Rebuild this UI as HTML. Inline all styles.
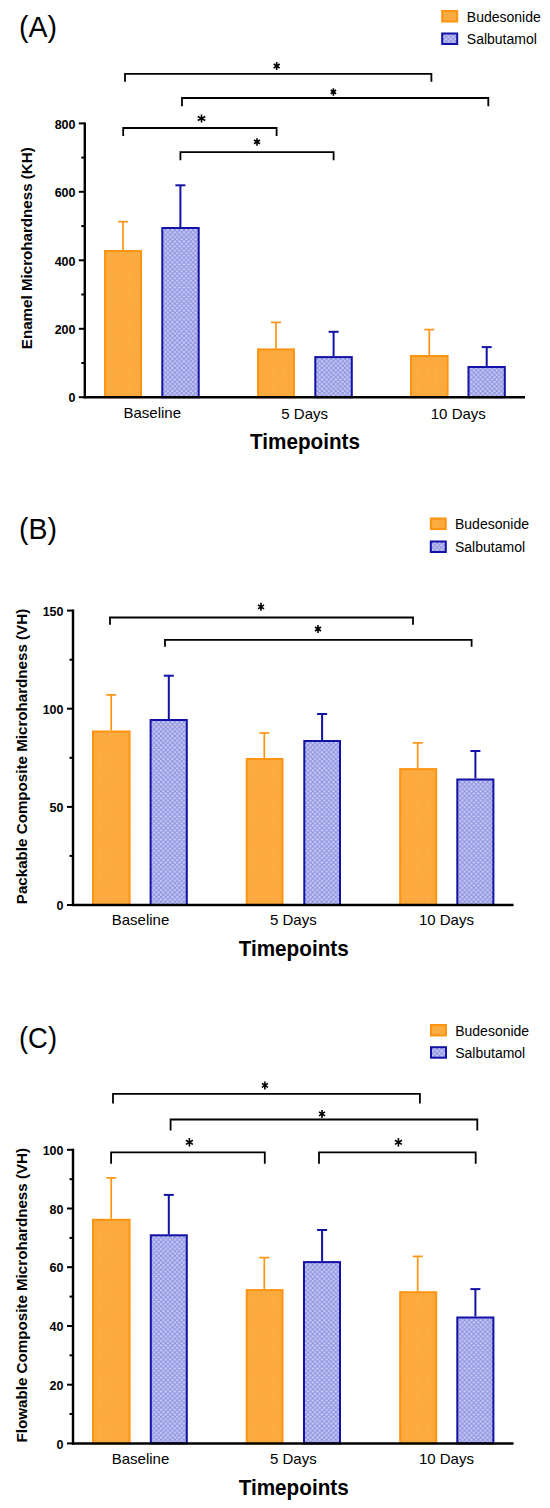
<!DOCTYPE html>
<html><head><meta charset="utf-8"><title>Microhardness charts</title>
<style>html,body{margin:0;padding:0;background:#fff;}svg{display:block;}text{font-family:"Liberation Sans", sans-serif;}</style>
</head><body>
<svg width="550" height="1508" viewBox="0 0 550 1508" font-family='"Liberation Sans", sans-serif' fill="#000">
<rect width="550" height="1508" fill="#fff"/>
<defs>
<pattern id="po" width="9.6" height="9.6" patternUnits="userSpaceOnUse">
<rect width="9.6" height="9.6" fill="#FCA93E"/>
<rect x="4" y="4" width="1.4" height="1.4" fill="#FCBD6A"/>
</pattern>
<pattern id="pb" width="4.6" height="4.6" patternUnits="userSpaceOnUse">
<rect width="4.6" height="4.6" fill="#C8CBF5"/>
<path d="M0 0 L4.6 4.6 M4.6 0 L0 4.6" stroke="#8D91DD" stroke-width="1.0"/>
</pattern>
</defs>
<text x="19.0" y="36.8" font-size="29" textLength="38" lengthAdjust="spacingAndGlyphs">(A)</text>
<rect x="442.2" y="11.0" width="15" height="10.5" fill="url(#po)" stroke="#FF9412" stroke-width="2"/>
<rect x="442.2" y="33.5" width="15" height="10.5" fill="url(#pb)" stroke="#1212A6" stroke-width="2"/>
<text x="466.8" y="21.8" font-size="14" font-weight="normal" text-anchor="start" fill="#000">Budesonide</text>
<text x="466.8" y="44.0" font-size="14" font-weight="normal" text-anchor="start" fill="#000">Salbutamol</text>
<path d="M125.0 81.7 V73.8 H431.4 V81.7" fill="none" stroke="#000" stroke-width="1.8"/>
<path d="M276.70 62.00 L276.70 70.00 M273.70 64.00 L279.70 68.00 M279.70 64.00 L273.70 68.00" stroke="#000" stroke-width="1.6" stroke-linecap="butt"/>
<path d="M182.0 106.3 V98.0 H488.3 V106.3" fill="none" stroke="#000" stroke-width="1.8"/>
<path d="M333.40 88.15 L333.40 95.65 M330.70 90.03 L336.10 93.78 M336.10 90.03 L330.70 93.78" stroke="#000" stroke-width="1.6" stroke-linecap="butt"/>
<path d="M123.2 136.0 V128.0 H276.6 V136.0" fill="none" stroke="#000" stroke-width="1.8"/>
<path d="M201.50 114.50 L201.50 122.50 M197.75 116.50 L205.25 120.50 M205.25 116.50 L197.75 120.50" stroke="#000" stroke-width="1.6" stroke-linecap="butt"/>
<path d="M180.4 160.2 V152.2 H333.6 V160.2" fill="none" stroke="#000" stroke-width="1.8"/>
<path d="M257.00 138.15 L257.00 145.65 M254.00 140.03 L260.00 143.78 M260.00 140.03 L254.00 143.78" stroke="#000" stroke-width="1.6" stroke-linecap="butt"/>
<line x1="84.8" y1="122.4" x2="84.8" y2="398.2" stroke="#000" stroke-width="2.4"/>
<line x1="78.8" y1="123.4" x2="84.8" y2="123.4" stroke="#000" stroke-width="2"/>
<text x="75.5" y="128.6" font-size="12.5" font-weight="bold" text-anchor="end" >800</text>
<line x1="78.8" y1="191.8" x2="84.8" y2="191.8" stroke="#000" stroke-width="2"/>
<text x="75.5" y="197.0" font-size="12.5" font-weight="bold" text-anchor="end" >600</text>
<line x1="78.8" y1="260.3" x2="84.8" y2="260.3" stroke="#000" stroke-width="2"/>
<text x="75.5" y="265.5" font-size="12.5" font-weight="bold" text-anchor="end" >400</text>
<line x1="78.8" y1="328.8" x2="84.8" y2="328.8" stroke="#000" stroke-width="2"/>
<text x="75.5" y="333.9" font-size="12.5" font-weight="bold" text-anchor="end" >200</text>
<line x1="78.8" y1="397.2" x2="84.8" y2="397.2" stroke="#000" stroke-width="2"/>
<text x="75.5" y="402.4" font-size="12.5" font-weight="bold" text-anchor="end" >0</text>
<line x1="81.3" y1="157.6" x2="84.8" y2="157.6" stroke="#000" stroke-width="2"/>
<line x1="81.3" y1="226.1" x2="84.8" y2="226.1" stroke="#000" stroke-width="2"/>
<line x1="81.3" y1="294.5" x2="84.8" y2="294.5" stroke="#000" stroke-width="2"/>
<line x1="81.3" y1="363.0" x2="84.8" y2="363.0" stroke="#000" stroke-width="2"/>
<text x="0" y="0" font-size="15.15" font-weight="bold" text-anchor="middle" transform="translate(31.8,248.2) rotate(-90)">Enamel Microhardness (KH)</text>
<line x1="123.0" y1="221.7" x2="123.0" y2="250.0" stroke="#FF9412" stroke-width="1.7"/>
<line x1="118.0" y1="221.7" x2="128.0" y2="221.7" stroke="#FF9412" stroke-width="1.7"/>
<rect x="105.0" y="251.0" width="36.0" height="146.2" fill="url(#po)" stroke="#FF9412" stroke-width="2"/>
<line x1="180.4" y1="185.3" x2="180.4" y2="227.0" stroke="#1212A6" stroke-width="2.0"/>
<line x1="175.4" y1="185.3" x2="185.4" y2="185.3" stroke="#1212A6" stroke-width="2.0"/>
<rect x="162.3" y="228.0" width="36.4" height="169.2" fill="url(#pb)" stroke="#1212A6" stroke-width="2"/>
<line x1="276.0" y1="322.4" x2="276.0" y2="348.4" stroke="#FF9412" stroke-width="1.7"/>
<line x1="271.0" y1="322.4" x2="281.0" y2="322.4" stroke="#FF9412" stroke-width="1.7"/>
<rect x="258.0" y="349.4" width="36.0" height="47.8" fill="url(#po)" stroke="#FF9412" stroke-width="2"/>
<line x1="333.6" y1="331.8" x2="333.6" y2="356.1" stroke="#1212A6" stroke-width="2.0"/>
<line x1="328.6" y1="331.8" x2="338.6" y2="331.8" stroke="#1212A6" stroke-width="2.0"/>
<rect x="315.3" y="357.1" width="36.5" height="40.1" fill="url(#pb)" stroke="#1212A6" stroke-width="2"/>
<line x1="429.3" y1="329.6" x2="429.3" y2="355.0" stroke="#FF9412" stroke-width="1.7"/>
<line x1="424.3" y1="329.6" x2="434.3" y2="329.6" stroke="#FF9412" stroke-width="1.7"/>
<rect x="411.0" y="356.0" width="36.6" height="41.2" fill="url(#po)" stroke="#FF9412" stroke-width="2"/>
<line x1="486.7" y1="347.1" x2="486.7" y2="366.0" stroke="#1212A6" stroke-width="2.0"/>
<line x1="481.7" y1="347.1" x2="491.7" y2="347.1" stroke="#1212A6" stroke-width="2.0"/>
<rect x="468.5" y="367.0" width="36.3" height="30.2" fill="url(#pb)" stroke="#1212A6" stroke-width="2"/>
<line x1="83.6" y1="397.2" x2="525.0" y2="397.2" stroke="#000" stroke-width="2.5"/>
<text x="152.3" y="418.4" font-size="15" font-weight="normal" text-anchor="middle" fill="#000">Baseline</text>
<text x="304.7" y="418.6" font-size="15" font-weight="normal" text-anchor="middle" fill="#000">5 Days</text>
<text x="458.3" y="418.6" font-size="15" font-weight="normal" text-anchor="middle" fill="#000">10 Days</text>
<text x="305.0" y="448.7" font-size="22" font-weight="bold" text-anchor="middle" textLength="110" lengthAdjust="spacingAndGlyphs">Timepoints</text>
<text x="19.0" y="539.0" font-size="29" textLength="38" lengthAdjust="spacingAndGlyphs">(B)</text>
<rect x="430.8" y="518.5" width="15" height="10.5" fill="url(#po)" stroke="#FF9412" stroke-width="2"/>
<rect x="430.8" y="541.5" width="15" height="10.5" fill="url(#pb)" stroke="#1212A6" stroke-width="2"/>
<text x="455.0" y="529.2" font-size="14" font-weight="normal" text-anchor="start" fill="#000">Budesonide</text>
<text x="455.0" y="552.0" font-size="14" font-weight="normal" text-anchor="start" fill="#000">Salbutamol</text>
<path d="M110.0 624.7 V617.5 H413.0 V624.7" fill="none" stroke="#000" stroke-width="1.8"/>
<path d="M261.00 602.80 L261.00 610.80 M258.00 604.80 L264.00 608.80 M264.00 604.80 L258.00 608.80" stroke="#000" stroke-width="1.6" stroke-linecap="butt"/>
<path d="M165.0 646.7 V639.9 H471.6 V646.7" fill="none" stroke="#000" stroke-width="1.8"/>
<path d="M318.00 625.00 L318.00 633.00 M315.00 627.00 L321.00 631.00 M321.00 627.00 L315.00 631.00" stroke="#000" stroke-width="1.6" stroke-linecap="butt"/>
<line x1="73.0" y1="609.6" x2="73.0" y2="906.0" stroke="#000" stroke-width="2.4"/>
<line x1="67.0" y1="610.6" x2="73.0" y2="610.6" stroke="#000" stroke-width="2"/>
<text x="63.5" y="615.8" font-size="12.5" font-weight="bold" text-anchor="end" >150</text>
<line x1="67.0" y1="708.7" x2="73.0" y2="708.7" stroke="#000" stroke-width="2"/>
<text x="63.5" y="713.9" font-size="12.5" font-weight="bold" text-anchor="end" >100</text>
<line x1="67.0" y1="806.9" x2="73.0" y2="806.9" stroke="#000" stroke-width="2"/>
<text x="63.5" y="812.1" font-size="12.5" font-weight="bold" text-anchor="end" >50</text>
<line x1="67.0" y1="905.0" x2="73.0" y2="905.0" stroke="#000" stroke-width="2"/>
<text x="63.5" y="910.2" font-size="12.5" font-weight="bold" text-anchor="end" >0</text>
<line x1="69.5" y1="659.7" x2="73.0" y2="659.7" stroke="#000" stroke-width="2"/>
<line x1="69.5" y1="757.8" x2="73.0" y2="757.8" stroke="#000" stroke-width="2"/>
<line x1="69.5" y1="855.9" x2="73.0" y2="855.9" stroke="#000" stroke-width="2"/>
<text x="0" y="0" font-size="15.15" font-weight="bold" text-anchor="middle" transform="translate(26.8,756.5) rotate(-90)">Packable Composite Microhardness (VH)</text>
<line x1="111.2" y1="694.9" x2="111.2" y2="730.5" stroke="#FF9412" stroke-width="1.7"/>
<line x1="106.2" y1="694.9" x2="116.2" y2="694.9" stroke="#FF9412" stroke-width="1.7"/>
<rect x="93.0" y="731.5" width="36.6" height="173.5" fill="url(#po)" stroke="#FF9412" stroke-width="2"/>
<line x1="168.8" y1="675.7" x2="168.8" y2="719.0" stroke="#1212A6" stroke-width="2.0"/>
<line x1="163.8" y1="675.7" x2="173.8" y2="675.7" stroke="#1212A6" stroke-width="2.0"/>
<rect x="150.6" y="720.0" width="36.2" height="185.0" fill="url(#pb)" stroke="#1212A6" stroke-width="2"/>
<line x1="264.3" y1="733.0" x2="264.3" y2="758.0" stroke="#FF9412" stroke-width="1.7"/>
<line x1="259.3" y1="733.0" x2="269.3" y2="733.0" stroke="#FF9412" stroke-width="1.7"/>
<rect x="246.7" y="759.0" width="35.8" height="146.0" fill="url(#po)" stroke="#FF9412" stroke-width="2"/>
<line x1="322.1" y1="714.0" x2="322.1" y2="740.0" stroke="#1212A6" stroke-width="2.0"/>
<line x1="317.1" y1="714.0" x2="327.1" y2="714.0" stroke="#1212A6" stroke-width="2.0"/>
<rect x="304.3" y="741.0" width="35.7" height="164.0" fill="url(#pb)" stroke="#1212A6" stroke-width="2"/>
<line x1="417.7" y1="742.9" x2="417.7" y2="768.1" stroke="#FF9412" stroke-width="1.7"/>
<line x1="412.7" y1="742.9" x2="422.7" y2="742.9" stroke="#FF9412" stroke-width="1.7"/>
<rect x="400.2" y="769.1" width="36.0" height="135.9" fill="url(#po)" stroke="#FF9412" stroke-width="2"/>
<line x1="475.4" y1="751.0" x2="475.4" y2="778.5" stroke="#1212A6" stroke-width="2.0"/>
<line x1="470.4" y1="751.0" x2="480.4" y2="751.0" stroke="#1212A6" stroke-width="2.0"/>
<rect x="457.3" y="779.5" width="36.1" height="125.5" fill="url(#pb)" stroke="#1212A6" stroke-width="2"/>
<line x1="71.8" y1="905.0" x2="513.6" y2="905.0" stroke="#000" stroke-width="2.5"/>
<text x="140.5" y="925.4" font-size="15" font-weight="normal" text-anchor="middle" fill="#000">Baseline</text>
<text x="293.3" y="925.4" font-size="15" font-weight="normal" text-anchor="middle" fill="#000">5 Days</text>
<text x="446.4" y="925.4" font-size="15" font-weight="normal" text-anchor="middle" fill="#000">10 Days</text>
<text x="293.7" y="955.5" font-size="22" font-weight="bold" text-anchor="middle" textLength="110" lengthAdjust="spacingAndGlyphs">Timepoints</text>
<text x="19.0" y="1047.5" font-size="29" textLength="38" lengthAdjust="spacingAndGlyphs">(C)</text>
<rect x="431.0" y="1025.0" width="15" height="10.5" fill="url(#po)" stroke="#FF9412" stroke-width="2"/>
<rect x="431.0" y="1047.2" width="15" height="10.5" fill="url(#pb)" stroke="#1212A6" stroke-width="2"/>
<text x="455.2" y="1035.5" font-size="14" font-weight="normal" text-anchor="start" fill="#000">Budesonide</text>
<text x="455.2" y="1057.5" font-size="14" font-weight="normal" text-anchor="start" fill="#000">Salbutamol</text>
<path d="M113.0 1103.5 V1093.8 H419.9 V1103.5" fill="none" stroke="#000" stroke-width="1.8"/>
<path d="M264.90 1081.40 L264.90 1089.40 M261.90 1083.40 L267.90 1087.40 M267.90 1083.40 L261.90 1087.40" stroke="#000" stroke-width="1.6" stroke-linecap="butt"/>
<path d="M170.6 1130.6 V1119.5 H477.3 V1130.6" fill="none" stroke="#000" stroke-width="1.8"/>
<path d="M322.00 1109.90 L322.00 1117.90 M319.00 1111.90 L325.00 1115.90 M325.00 1111.90 L319.00 1115.90" stroke="#000" stroke-width="1.6" stroke-linecap="butt"/>
<path d="M111.1 1163.8 V1152.3 H264.8 V1163.8" fill="none" stroke="#000" stroke-width="1.8"/>
<path d="M189.40 1138.10 L189.40 1146.50 M185.90 1140.20 L192.90 1144.40 M192.90 1140.20 L185.90 1144.40" stroke="#000" stroke-width="1.6" stroke-linecap="butt"/>
<path d="M319.0 1163.8 V1152.3 H475.7 V1163.8" fill="none" stroke="#000" stroke-width="1.8"/>
<path d="M398.40 1138.10 L398.40 1146.50 M394.90 1140.20 L401.90 1144.40 M401.90 1140.20 L394.90 1144.40" stroke="#000" stroke-width="1.6" stroke-linecap="butt"/>
<line x1="73.0" y1="1148.8" x2="73.0" y2="1444.4" stroke="#000" stroke-width="2.4"/>
<line x1="67.0" y1="1149.8" x2="73.0" y2="1149.8" stroke="#000" stroke-width="2"/>
<text x="63.5" y="1155.0" font-size="12.5" font-weight="bold" text-anchor="end" >100</text>
<line x1="67.0" y1="1208.5" x2="73.0" y2="1208.5" stroke="#000" stroke-width="2"/>
<text x="63.5" y="1213.7" font-size="12.5" font-weight="bold" text-anchor="end" >80</text>
<line x1="67.0" y1="1267.2" x2="73.0" y2="1267.2" stroke="#000" stroke-width="2"/>
<text x="63.5" y="1272.4" font-size="12.5" font-weight="bold" text-anchor="end" >60</text>
<line x1="67.0" y1="1326.0" x2="73.0" y2="1326.0" stroke="#000" stroke-width="2"/>
<text x="63.5" y="1331.2" font-size="12.5" font-weight="bold" text-anchor="end" >40</text>
<line x1="67.0" y1="1384.7" x2="73.0" y2="1384.7" stroke="#000" stroke-width="2"/>
<text x="63.5" y="1389.9" font-size="12.5" font-weight="bold" text-anchor="end" >20</text>
<line x1="67.0" y1="1443.4" x2="73.0" y2="1443.4" stroke="#000" stroke-width="2"/>
<text x="63.5" y="1448.6" font-size="12.5" font-weight="bold" text-anchor="end" >0</text>
<line x1="69.5" y1="1179.2" x2="73.0" y2="1179.2" stroke="#000" stroke-width="2"/>
<line x1="69.5" y1="1237.9" x2="73.0" y2="1237.9" stroke="#000" stroke-width="2"/>
<line x1="69.5" y1="1296.6" x2="73.0" y2="1296.6" stroke="#000" stroke-width="2"/>
<line x1="69.5" y1="1355.3" x2="73.0" y2="1355.3" stroke="#000" stroke-width="2"/>
<line x1="69.5" y1="1414.0" x2="73.0" y2="1414.0" stroke="#000" stroke-width="2"/>
<text x="0" y="0" font-size="15.15" font-weight="bold" text-anchor="middle" transform="translate(26.8,1295.2) rotate(-90)">Flowable Composite Microhardness (VH)</text>
<line x1="111.2" y1="1177.9" x2="111.2" y2="1218.8" stroke="#FF9412" stroke-width="1.7"/>
<line x1="106.2" y1="1177.9" x2="116.2" y2="1177.9" stroke="#FF9412" stroke-width="1.7"/>
<rect x="93.0" y="1219.8" width="36.6" height="223.6" fill="url(#po)" stroke="#FF9412" stroke-width="2"/>
<line x1="168.8" y1="1194.9" x2="168.8" y2="1234.3" stroke="#1212A6" stroke-width="2.0"/>
<line x1="163.8" y1="1194.9" x2="173.8" y2="1194.9" stroke="#1212A6" stroke-width="2.0"/>
<rect x="150.8" y="1235.3" width="36.0" height="208.1" fill="url(#pb)" stroke="#1212A6" stroke-width="2"/>
<line x1="264.3" y1="1257.6" x2="264.3" y2="1289.1" stroke="#FF9412" stroke-width="1.7"/>
<line x1="259.3" y1="1257.6" x2="269.3" y2="1257.6" stroke="#FF9412" stroke-width="1.7"/>
<rect x="246.7" y="1290.1" width="35.8" height="153.3" fill="url(#po)" stroke="#FF9412" stroke-width="2"/>
<line x1="322.1" y1="1230.0" x2="322.1" y2="1261.1" stroke="#1212A6" stroke-width="2.0"/>
<line x1="317.1" y1="1230.0" x2="327.1" y2="1230.0" stroke="#1212A6" stroke-width="2.0"/>
<rect x="304.0" y="1262.1" width="36.0" height="181.3" fill="url(#pb)" stroke="#1212A6" stroke-width="2"/>
<line x1="417.7" y1="1256.4" x2="417.7" y2="1291.2" stroke="#FF9412" stroke-width="1.7"/>
<line x1="412.7" y1="1256.4" x2="422.7" y2="1256.4" stroke="#FF9412" stroke-width="1.7"/>
<rect x="400.2" y="1292.2" width="36.0" height="151.2" fill="url(#po)" stroke="#FF9412" stroke-width="2"/>
<line x1="475.4" y1="1289.1" x2="475.4" y2="1316.5" stroke="#1212A6" stroke-width="2.0"/>
<line x1="470.4" y1="1289.1" x2="480.4" y2="1289.1" stroke="#1212A6" stroke-width="2.0"/>
<rect x="457.3" y="1317.5" width="36.1" height="125.9" fill="url(#pb)" stroke="#1212A6" stroke-width="2"/>
<line x1="71.8" y1="1443.4" x2="513.6" y2="1443.4" stroke="#000" stroke-width="2.5"/>
<text x="140.5" y="1464.4" font-size="15" font-weight="normal" text-anchor="middle" fill="#000">Baseline</text>
<text x="293.3" y="1464.4" font-size="15" font-weight="normal" text-anchor="middle" fill="#000">5 Days</text>
<text x="446.4" y="1464.4" font-size="15" font-weight="normal" text-anchor="middle" fill="#000">10 Days</text>
<text x="293.7" y="1495.4" font-size="22" font-weight="bold" text-anchor="middle" textLength="110" lengthAdjust="spacingAndGlyphs">Timepoints</text>
</svg>
</body></html>
